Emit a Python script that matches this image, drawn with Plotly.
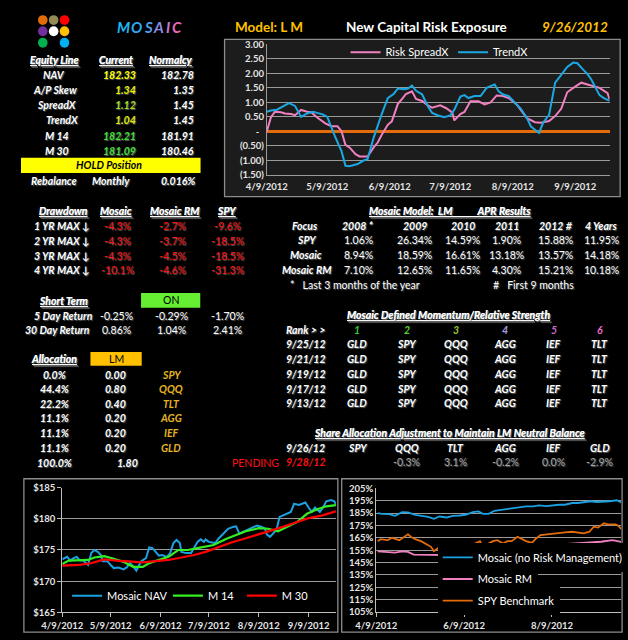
import plotly.graph_objects as go

W, H = 628, 640
F = "Lato"

# ---- top chart: New Capital Risk Exposure ----
trend_dates = ["2012-04-09", "2012-04-11", "2012-04-14", "2012-04-18", "2012-04-20", "2012-04-23", "2012-04-25",
               "2012-04-26", "2012-04-29", "2012-05-02", "2012-05-04", "2012-05-07", "2012-05-09", "2012-05-11",
               "2012-05-13", "2012-05-16", "2012-05-18", "2012-05-20", "2012-05-24", "2012-05-27", "2012-05-29",
               "2012-06-01", "2012-06-03", "2012-06-05", "2012-06-08", "2012-06-11", "2012-06-13", "2012-06-16",
               "2012-06-18", "2012-06-20", "2012-06-22", "2012-06-25", "2012-06-28", "2012-06-30", "2012-07-03",
               "2012-07-06", "2012-07-09", "2012-07-11", "2012-07-14", "2012-07-16", "2012-07-18", "2012-07-21",
               "2012-07-24", "2012-07-27", "2012-07-31", "2012-08-02", "2012-08-04", "2012-08-07", "2012-08-11",
               "2012-08-13", "2012-08-16", "2012-08-18", "2012-08-22", "2012-08-24", "2012-08-27", "2012-08-30",
               "2012-09-02", "2012-09-05", "2012-09-08", "2012-09-10", "2012-09-13", "2012-09-15", "2012-09-17",
               "2012-09-21", "2012-09-23", "2012-09-26"]
trend_vals = [0.68, 0.72, 0.75, 0.92, 0.98, 0.88, 0.62, 0.50, 0.62, 0.68, 0.64, 0.58, 0.50, 0.14,
              -0.20, -0.67, -1.18, -1.20, -1.12, -1.00, -0.95, -0.21, 0.23, 0.60, 1.15, 1.30, 1.48, 1.45,
              1.48, 1.58, 1.40, 1.28, 0.85, 0.64, 0.55, 0.49, 0.55, 0.75, 1.20, 1.25, 1.15, 1.22,
              1.22, 1.50, 1.62, 1.38, 1.28, 1.22, 0.92, 0.78, 0.46, 0.17, -0.05, 0.30, 0.57, 1.68,
              1.95, 2.22, 2.37, 2.35, 2.12, 1.98, 1.78, 1.25, 1.16, 1.05]

spread_dates = ["2012-04-09", "2012-04-11", "2012-04-13", "2012-04-16", "2012-04-18", "2012-04-21", "2012-04-23",
                "2012-04-26", "2012-04-29", "2012-05-01", "2012-05-04", "2012-05-06", "2012-05-08", "2012-05-11",
                "2012-05-14", "2012-05-16", "2012-05-18", "2012-05-20", "2012-05-23", "2012-05-25", "2012-05-29",
                "2012-06-01", "2012-06-03", "2012-06-05", "2012-06-08", "2012-06-10", "2012-06-13", "2012-06-15",
                "2012-06-17", "2012-06-20", "2012-06-22", "2012-06-25", "2012-06-28", "2012-06-30", "2012-07-04",
                "2012-07-07", "2012-07-10", "2012-07-11", "2012-07-14", "2012-07-16", "2012-07-19", "2012-07-23",
                "2012-07-26", "2012-07-29", "2012-08-01", "2012-08-04", "2012-08-07", "2012-08-11", "2012-08-13",
                "2012-08-16", "2012-08-20", "2012-08-23", "2012-08-27", "2012-08-30", "2012-09-02", "2012-09-05",
                "2012-09-08", "2012-09-12", "2012-09-15", "2012-09-18", "2012-09-21", "2012-09-25", "2012-09-26"]
spread_vals = [0.00, 0.48, 0.68, 0.66, 0.62, 0.60, 0.56, 0.74, 0.68, 0.66, 0.48, 0.39, 0.28, 0.18,
               0.18, 0.02, -0.46, -0.55, -0.78, -0.86, -0.86, -0.55, -0.38, -0.11, 0.23, 0.35, 0.95, 1.11,
               1.29, 1.38, 1.12, 1.05, 0.89, 0.82, 0.90, 0.80, 0.65, 0.38, 0.60, 0.67, 1.04, 1.04,
               0.93, 1.00, 1.24, 1.22, 1.15, 0.92, 0.75, 0.46, 0.32, 0.30, 0.36, 0.53, 0.78, 1.35,
               1.50, 1.68, 1.62, 1.55, 1.50, 1.32, 1.10]

risk_yticks = [3.0, 2.5, 2.0, 1.5, 1.0, 0.5, 0.0, -0.5, -1.0, -1.5]
risk_ytext = ["3.00", "2.50", "2.00", "1.50", "1.00", "0.50", "-\u00a0\u00a0", "(0.50)", "(1.00)", "(1.50)"]
month_ticks = ["2012-04-09", "2012-05-09", "2012-06-09", "2012-07-09", "2012-08-09", "2012-09-09"]
month_text = ["4/9/2012", "5/9/2012", "6/9/2012", "7/9/2012", "8/9/2012", "9/9/2012"]

# ---- bottom left: NAV and moving averages ----
nav_dates = ["2012-04-09", "2012-04-10", "2012-04-12", "2012-04-14", "2012-04-16", "2012-04-18", "2012-04-20",
             "2012-04-22", "2012-04-25", "2012-04-27", "2012-04-29", "2012-05-01", "2012-05-03", "2012-05-04",
             "2012-05-07", "2012-05-09", "2012-05-11", "2012-05-14", "2012-05-17", "2012-05-19", "2012-05-21",
             "2012-05-23", "2012-05-25", "2012-05-28", "2012-05-31", "2012-06-02", "2012-06-04", "2012-06-06",
             "2012-06-08", "2012-06-10", "2012-06-13", "2012-06-15", "2012-06-17", "2012-06-19", "2012-06-21",
             "2012-06-22", "2012-06-25", "2012-06-28", "2012-06-30", "2012-07-02", "2012-07-04", "2012-07-06",
             "2012-07-07", "2012-07-09", "2012-07-11", "2012-07-13", "2012-07-15", "2012-07-18", "2012-07-21",
             "2012-07-24", "2012-07-26", "2012-07-28", "2012-07-31", "2012-08-03", "2012-08-06", "2012-08-08",
             "2012-08-11", "2012-08-13", "2012-08-14", "2012-08-16", "2012-08-18", "2012-08-20", "2012-08-22",
             "2012-08-24", "2012-08-27", "2012-08-29", "2012-08-31", "2012-09-03", "2012-09-05", "2012-09-07",
             "2012-09-09", "2012-09-11", "2012-09-13", "2012-09-16", "2012-09-18", "2012-09-20", "2012-09-23",
             "2012-09-25", "2012-09-26"]
nav_vals = [173.5, 173.6, 173.9, 173.3, 173.7, 173.9, 173.3,
            173.3, 172.6, 174.5, 175.0, 174.7, 174.2, 173.2,
            173.2, 172.6, 172.1, 172.2, 171.9, 172.2, 172.9,
            172.4, 171.7, 173.2, 173.7, 175.4, 175.3, 174.7,
            174.1, 174.2, 173.9, 174.5, 176.1, 176.6, 176.1,
            174.7, 174.5, 174.5, 175.5, 176.3, 176.7, 176.3,
            176.7, 176.3, 176.2, 176.1, 176.8, 177.6, 178.4,
            178.7, 178.8, 177.6, 178.0, 178.4, 178.7, 178.9,
            178.7, 178.4, 177.5, 177.1, 177.6, 178.2, 180.3,
            180.5, 180.8, 181.1, 182.4, 182.2, 182.4, 182.6,
            181.8, 181.1, 181.8, 181.1, 181.8, 182.8, 183.0,
            182.8, 182.3]

m14_dates = ["2012-04-09", "2012-04-10", "2012-04-13", "2012-04-19", "2012-04-25", "2012-04-29", "2012-05-05",
             "2012-05-11", "2012-05-17", "2012-05-23", "2012-05-29", "2012-06-02", "2012-06-08", "2012-06-14",
             "2012-06-20", "2012-06-26", "2012-07-02", "2012-07-06", "2012-07-12", "2012-07-20", "2012-07-26",
             "2012-08-01", "2012-08-09", "2012-08-15", "2012-08-21", "2012-08-27", "2012-09-02", "2012-09-08",
             "2012-09-14", "2012-09-20", "2012-09-26"]
m14_vals = [172.7, 172.9, 173.3, 173.3, 173.4, 173.8, 174.0,
            173.6, 173.1, 172.3, 172.3, 172.9, 173.4, 173.9,
            175.0, 175.0, 175.3, 175.5, 175.8, 176.8, 177.4,
            178.0, 178.5, 178.4, 178.0, 178.7, 179.5, 180.8,
            181.5, 182.0, 182.2]

m30_dates = ["2012-04-09", "2012-04-19", "2012-04-27", "2012-05-05", "2012-05-13", "2012-05-21", "2012-05-29",
             "2012-06-06", "2012-06-14", "2012-06-22", "2012-06-30", "2012-07-07", "2012-07-15", "2012-07-23",
             "2012-07-31", "2012-08-08", "2012-08-16", "2012-08-24", "2012-09-01", "2012-09-09", "2012-09-17",
             "2012-09-26"]
m30_vals = [172.5, 172.6, 172.9, 173.5, 173.3, 173.2, 173.0,
            173.2, 173.4, 173.8, 174.2, 174.7, 175.5, 176.2,
            176.8, 177.4, 178.0, 178.7, 179.4, 180.1, 180.5,
            181.2]

# ---- bottom right: cumulative growth ----
norm_dates = ["2012-04-10", "2012-04-13", "2012-04-18", "2012-04-22", "2012-04-27", "2012-05-01", "2012-05-06",
              "2012-05-10", "2012-05-15", "2012-05-19", "2012-05-23", "2012-05-28", "2012-06-01", "2012-06-06",
              "2012-06-10", "2012-06-15", "2012-06-19", "2012-06-22", "2012-06-26", "2012-06-30", "2012-07-05",
              "2012-07-09", "2012-07-14", "2012-07-18", "2012-07-22", "2012-07-27", "2012-07-31", "2012-08-05",
              "2012-08-09", "2012-08-14", "2012-08-18", "2012-08-23", "2012-08-27", "2012-08-31", "2012-09-05",
              "2012-09-09", "2012-09-14", "2012-09-18", "2012-09-23", "2012-09-26"]
norm_vals = [185.0, 184.4, 184.1, 182.7, 185.7, 185.5, 183.6,
             182.7, 181.9, 180.3, 182.2, 181.4, 182.7, 183.0,
             183.6, 185.7, 186.3, 184.4, 184.4, 186.8, 187.6,
             188.2, 189.0, 189.6, 190.4, 190.4, 191.2, 190.6,
             191.2, 191.7, 191.7, 193.1, 193.1, 193.9, 194.5,
             193.9, 193.9, 194.5, 195.3, 193.6]

rm_dates = ["2012-04-10", "2012-04-16", "2012-04-22", "2012-04-27", "2012-05-01", "2012-05-05", "2012-05-12",
            "2012-05-23", "2012-06-02", "2012-06-06", "2012-06-10", "2012-06-15", "2012-06-24", "2012-07-02",
            "2012-07-11", "2012-07-20", "2012-07-29", "2012-08-07", "2012-08-16", "2012-08-25", "2012-09-03",
            "2012-09-12", "2012-09-20", "2012-09-26"]
rm_vals = [154.1, 153.6, 153.0, 154.1, 153.6, 151.4, 151.4,
           151.4, 151.4, 150.9, 152.0, 153.6, 155.5, 155.5,
           156.3, 157.7, 158.5, 159.0, 159.6, 160.4, 160.9,
           161.8, 163.1, 161.8]

spy_dates = ["2012-04-10", "2012-04-12", "2012-04-17", "2012-04-20", "2012-04-25", "2012-04-28", "2012-05-01",
             "2012-05-03", "2012-05-06", "2012-05-10", "2012-05-13", "2012-05-17", "2012-05-19", "2012-05-22",
             "2012-05-26", "2012-05-29", "2012-06-01", "2012-06-05", "2012-06-07", "2012-06-10", "2012-06-14",
             "2012-06-17", "2012-06-20", "2012-06-22", "2012-06-26", "2012-06-29", "2012-07-02", "2012-07-06",
             "2012-07-09", "2012-07-12", "2012-07-16", "2012-07-19", "2012-07-22", "2012-07-26", "2012-07-29",
             "2012-08-01", "2012-08-05", "2012-08-09", "2012-08-14", "2012-08-18", "2012-08-23", "2012-08-27",
             "2012-08-31", "2012-09-04", "2012-09-07", "2012-09-10", "2012-09-14", "2012-09-17", "2012-09-22",
             "2012-09-24", "2012-09-26"]
spy_vals = [162.3, 163.9, 163.1, 165.0, 163.1, 165.8, 167.8,
            165.8, 163.9, 162.3, 160.4, 157.7, 154.1, 156.8,
            156.8, 158.5, 152.2, 153.0, 157.7, 156.3, 159.0,
            160.4, 162.3, 157.7, 160.4, 162.3, 163.1, 160.4,
            162.3, 162.3, 165.8, 163.9, 162.3, 160.9, 164.5,
            167.2, 167.8, 168.6, 169.4, 169.4, 169.9, 169.4,
            168.6, 169.9, 174.0, 173.2, 176.7, 175.9, 175.9,
            174.8, 172.1]

pct_ticks = [105, 115, 125, 135, 145, 155, 165, 175, 185, 195, 205]
pct_text = ["105%", "115%", "125%", "135%", "145%", "155%", "165%", "175%", "185%", "195%", "205%"]
bimonth_ticks = ["2012-04-09", "2012-06-09", "2012-08-09"]
bimonth_text = ["4/9/2012", "6/9/2012", "8/9/2012"]

# ---- tables ----
equity_labels = ["NAV", "A/P Skew", "SpreadX", "TrendX", "M 14", "M 30"]
equity_current = ["182.33", "1.34", "1.12", "1.04", "182.21", "181.09"]
equity_current_colors = ["#FFFF00", "#E8F000", "#A8DC20", "#E0E800", "#44DD33", "#44DD33"]
equity_normalcy = ["182.78", "1.35", "1.45", "1.45", "181.91", "180.46"]

dd_labels = ["1 YR MAX \u2193", "2 YR MAX \u2193", "3 YR MAX \u2193", "4 YR MAX \u2193"]
dd_mosaic = ["-4.3%", "-4.3%", "-4.3%", "-10.1%"]
dd_rm = ["-2.7%", "-3.7%", "-4.5%", "-4.6%"]
dd_spy = ["-9.6%", "-18.5%", "-18.5%", "-31.3%"]

st_labels = ["5 Day Return", "30 Day Return"]
st_mosaic = ["-0.25%", "0.86%"]
st_rm = ["-0.29%", "1.04%"]
st_spy = ["-1.70%", "2.41%"]

alloc_pct = ["0.0%", "44.4%", "22.2%", "11.1%", "11.1%", "11.1%"]
alloc_wt = ["0.00", "0.80", "0.40", "0.20", "0.20", "0.20"]
alloc_tick = ["SPY", "QQQ", "TLT", "AGG", "IEF", "GLD"]

apr_years = ["2008 *", "2009", "2010", "2011", "2012 #", "4 Years"]
apr_rows = ["SPY", "Mosaic", "Mosaic RM"]
apr_spy = ["1.06%", "26.34%", "14.59%", "1.90%", "15.88%", "11.95%"]
apr_mosaic = ["8.94%", "18.59%", "16.61%", "13.18%", "13.57%", "14.18%"]
apr_rm = ["7.10%", "12.65%", "11.65%", "4.30%", "15.21%", "10.18%"]

rank_nums = ["1", "2", "3", "4", "5", "6"]
rank_colors = ["#33CC33", "#55D63A", "#9DC43A", "#A99BE0", "#C766C8", "#F06ACB"]
rank_dates = ["9/25/12", "9/21/12", "9/19/12", "9/17/12", "9/13/12"]
rank_tickers = ["GLD", "SPY", "QQQ", "AGG", "IEF", "TLT"]

share_tickers = ["SPY", "QQQ", "TLT", "AGG", "IEF", "GLD"]
share_adj = ["", "-0.3%", "3.1%", "-0.2%", "0.0%", "-2.9%"]


def px(x):
    return x / W


def py(y):
    return 1 - y / H


ann = []
shapes = []


def T(x, y, s, color="white", size=10.5, bold=True, italic=True, anchor="center", u=False, shadow=True):
    if u:
        s = "<u>" + s + "</u>"
    if italic:
        s = "<i>" + s + "</i>"
    if bold:
        s = "<b>" + s + "</b>"
    ann.append(dict(x=px(x), y=py(y), xref="paper", yref="paper", text=s, showarrow=False,
                    xanchor=anchor, yanchor="middle",
                    font=dict(family=F, size=size, color=color,
                              shadow="1px 1px 1px #5a5a5a" if shadow else "none")))


def box(x0, y0, x1, y1, fill=None, line=None):
    shapes.append(dict(type="rect", xref="paper", yref="paper", x0=px(x0), x1=px(x1), y0=py(y1), y1=py(y0),
                       fillcolor=fill if fill else "rgba(0,0,0,0)",
                       line=dict(color=line if line else "rgba(0,0,0,0)", width=1.3), layer="below"))


# logo
logo = [(22.7, 14.3, "#E36C0A"), (34, 14.3, "#948A54"), (45.3, 14.3, "#FF0000"),
        (22.7, 25.7, "#7030A0"), (34, 25.7, "#FFFFFF"), (45.3, 25.7, "#FFC000"),
        (22.7, 37.4, "#00B050"), (45.3, 37.4, "#00B0F0")]
for cx, cy, c in logo:
    shapes.append(dict(type="circle", xref="paper", yref="paper", x0=px(cx - 5), x1=px(cx + 5),
                       y0=py(cy + 5), y1=py(cy - 5), fillcolor=c, line=dict(width=0)))

mosaic_cols = ["#1FB5F0", "#32A9F0", "#4E9FEA", "#8C8DE2", "#C07BD0", "#E868BE"]
mosaic_x = [106.7, 120.5, 132.5, 143.5, 153.5, 162.5]
for c, l, lx in zip(mosaic_cols, "MOSAIC", mosaic_x):
    T(lx, 21, l, color=c, size=15, shadow=False)
T(258, 21, "Model: L M", color="#FFC000", size=13.5, italic=False, shadow=False)
T(422, 21, "New Capital Risk Exposure", size=13.5, italic=False, shadow=False)
T(577, 21, "9/26/2012", color="#FFC000", size=13.5, shadow=False)

# equity table
T(35, 55, "Equity Line", u=True)
T(99, 55, "Current", u=True)
T(156, 55, "Normalcy", u=True)
lab_x = [34, 35, 37, 43, 38, 38]
for i in range(6):
    y = 69.7 + 15.6 * i
    T(lab_x[i], y, equity_labels[i])
    T(122, y, equity_current[i], color=equity_current_colors[i], anchor="right")
    T(182, y, equity_normalcy[i], anchor="right")
box(0, 154.5, 187, 170, fill="#FFFF00")
T(92, 162, "HOLD Position", color="black", shadow=False)
T(34.5, 178.3, "Rebalance")
T(94, 178.3, "Monthly")
T(183, 178.3, "0.016%", anchor="right")

# drawdown
T(44, 209, "Drawdown", u=True)
T(99, 209, "Mosaic", u=True)
T(159.5, 209, "Mosaic RM", u=True)
T(214.3, 209, "SPY", u=True)
for i in range(4):
    y = 223.5 + 15.2 * i
    T(42.5, y, dd_labels[i])
    T(100, y, dd_mosaic[i], color="#FF1010", bold=False, italic=False)
    T(157.5, y, dd_rm[i], color="#FF1010", bold=False, italic=False)
    T(215.5, y, dd_spy[i], color="#FF1010", bold=False, italic=False)

# short term
T(44, 300, "Short Term", u=True)
box(125, 292, 186.7, 307, fill="#66EE33")
T(156, 299.5, "ON", color="black", bold=False, italic=False, shadow=False)
for i in range(2):
    y = 315 + 15 * i
    T(44 if i == 0 else 38, y, st_labels[i])
    T(99, y, st_mosaic[i], bold=False, italic=False)
    T(156.7, y, st_rm[i], bold=False, italic=False)
    T(215, y, st_spy[i], bold=False, italic=False)

# allocation
T(34.5, 359.3, "Allocation", u=True)
box(72.3, 352, 125.7, 366, fill="#FFC000")
T(99, 359, "LM", color="black", bold=False, italic=False, shadow=False)
for i in range(6):
    y = 375 + 14.9 * i
    T(35, y, alloc_pct[i])
    T(98.7, y, alloc_wt[i])
    T(156.7, y, alloc_tick[i], color="#E6B422", shadow=False)
T(35, 464.5, "100.0%")
T(111.2, 464.5, "1.80")
T(244, 464.5, "PENDING", color="#FF1010", bold=False, italic=False, shadow=False)

# APR results
T(447, 209, "Mosaic Model:\u00a0\u00a0LM\u00a0\u00a0\u00a0\u00a0\u00a0\u00a0\u00a0\u00a0\u00a0\u00a0\u00a0APR Results", u=True)
T(296, 223.5, "Focus")
col_x = [351, 410, 460, 506, 556.7, 605]
for j in range(6):
    T(col_x[j], 223.5, apr_years[j])
for i, vals in enumerate([apr_spy, apr_mosaic, apr_rm]):
    y = 238.5 + 15.3 * i
    T(297, y, apr_rows[i])
    for j in range(6):
        T(col_x[j], y, vals[j], bold=False, italic=False)
T(278, 284, "*\u00a0\u00a0\u00a0Last 3 months of the year", bold=False, italic=False, anchor="left")
T(489, 284, "#\u00a0\u00a0\u00a0First 9 months", bold=False, italic=False, anchor="left")

# momentum ranks
T(445.5, 314.3, "Mosaic Defined Momentum/Relative Strength", u=True)
rank_x = [350, 401.7, 452.7, 504.3, 555, 602.7]
T(296, 329.3, "Rank > >")
for j in range(6):
    T(rank_x[j], 329.3, rank_nums[j], color=rank_colors[j], shadow=False)
for i in range(5):
    y = 344.3 + 15 * i
    T(296, y, rank_dates[i])
    for j in range(6):
        T(rank_x[j], y, rank_tickers[j])

# share allocation
T(446.7, 434, "Share Allocation Adjustment to Maintain LM Neutral Balance", u=True)
T(296, 449.3, "9/26/12")
T(296, 463.5, "9/28/12", color="#FF1010", shadow=False)
for j in range(6):
    T(rank_x[j], 449.3, share_tickers[j])
    if share_adj[j]:
        T(rank_x[j], 463.5, share_adj[j], color="#A6A6A6", bold=False, italic=False)

# chart frames
box(212, 34, 624, 194, fill="#1C1C1C", line="#8C8C8C")
box(3, 481, 330, 637, line="#8C8C8C")
box(334, 481, 626, 637, line="#8C8C8C")

fig = go.Figure()
fig.add_trace(go.Scatter(x=spread_dates, y=spread_vals, mode="lines", name="Risk SpreadX",
                         line=dict(color="#F080C0", width=2), xaxis="x", yaxis="y", legend="legend"))
fig.add_trace(go.Scatter(x=trend_dates, y=trend_vals, mode="lines", name="TrendX",
                         line=dict(color="#1BA8E2", width=2), xaxis="x", yaxis="y", legend="legend2"))
fig.add_trace(go.Scatter(x=nav_dates, y=nav_vals, mode="lines", name="Mosaic NAV",
                         line=dict(color="#1BA1E2", width=2), xaxis="x2", yaxis="y2", legend="legend3"))
fig.add_trace(go.Scatter(x=m14_dates, y=m14_vals, mode="lines", name="M 14",
                         line=dict(color="#33EE22", width=2.2), xaxis="x2", yaxis="y2", legend="legend4"))
fig.add_trace(go.Scatter(x=m30_dates, y=m30_vals, mode="lines", name="M 30",
                         line=dict(color="#FF0000", width=2.2), xaxis="x2", yaxis="y2", legend="legend5"))
fig.add_trace(go.Scatter(x=norm_dates, y=norm_vals, mode="lines", name="Mosaic (no Risk Management)",
                         line=dict(color="#1BA1E2", width=1.8), xaxis="x3", yaxis="y3", legend="legend6"))
fig.add_trace(go.Scatter(x=rm_dates, y=rm_vals, mode="lines", name="Mosaic RM",
                         line=dict(color="#F080C0", width=1.8), xaxis="x3", yaxis="y3", legend="legend7"))
fig.add_trace(go.Scatter(x=spy_dates, y=spy_vals, mode="lines", name="SPY Benchmark",
                         line=dict(color="#E36C0A", width=1.8), xaxis="x3", yaxis="y3", legend="legend8"))

tick_font = dict(family=F, size=9.5, color="#E6E6E6", weight="bold")
grid = "#9A9A9A"


def leg(x, y, bg="rgba(0,0,0,0)"):
    return dict(x=px(x), y=py(y), xanchor="left", yanchor="middle", bgcolor=bg, borderwidth=0,
                orientation="h", font=dict(family=F, size=11, color="white"))


fig.update_layout(
    width=W, height=H, margin=dict(l=0, r=0, t=0, b=0),
    paper_bgcolor="black", plot_bgcolor="black", showlegend=True,
    annotations=ann, shapes=shapes, hovermode=False,
    xaxis=dict(domain=[px(256), px(613)], anchor="y", range=["2012-04-09", "2012-09-26"],
               tickvals=month_ticks, ticktext=month_text, tickfont=tick_font, showgrid=False,
               showline=True, linecolor="#9A9A9A", zeroline=False, ticklabelstandoff=3),
    yaxis=dict(domain=[py(172), py(39)], anchor="x", range=[-1.5, 3.0], tickvals=risk_yticks,
               ticktext=risk_ytext, tickfont=tick_font, gridcolor=grid, gridwidth=1,
               showline=True, linecolor="#9A9A9A", zeroline=True, zerolinecolor="#E46C0A", zerolinewidth=3),
    xaxis2=dict(domain=[px(43), px(328)], anchor="y2", range=["2012-04-09", "2012-09-26"],
                tickvals=month_ticks, ticktext=month_text, tickfont=tick_font, showgrid=False,
                showline=True, linecolor="#BFBFBF", ticks="outside", ticklen=4, tickcolor="#BFBFBF"),
    yaxis2=dict(domain=[py(617), py(490)], anchor="x2", range=[165, 185], dtick=5, tickprefix="$",
                tickfont=tick_font, gridcolor=grid, showline=True, linecolor="#BFBFBF",
                ticks="outside", ticklen=4, tickcolor="#BFBFBF", zeroline=False),
    xaxis3=dict(domain=[px(370), px(625)], anchor="y3", range=["2012-04-09", "2012-09-26"],
                tickvals=bimonth_ticks, ticktext=bimonth_text, tickfont=tick_font, showgrid=False,
                showline=True, linecolor="#BFBFBF", ticks="outside", ticklen=4, tickcolor="#BFBFBF"),
    yaxis3=dict(domain=[py(616.7), py(490.7)], anchor="x3", range=[105, 205], tickvals=pct_ticks,
                ticktext=pct_text, tickfont=tick_font, gridcolor=grid, showline=True, linecolor="#BFBFBF",
                zeroline=False),
    legend=leg(338, 47),
    legend2=leg(450, 47),
    legend3=leg(48, 600),
    legend4=leg(153, 600),
    legend5=leg(230, 600),
    legend6=leg(434, 561, "black"),
    legend7=leg(434, 583, "black"),
    legend8=leg(434, 605, "black"),
)

fig.write_html("out.html", config={"displayModeBar": False},
               post_script="document.body.style.margin='0';document.body.style.overflow='hidden';")
